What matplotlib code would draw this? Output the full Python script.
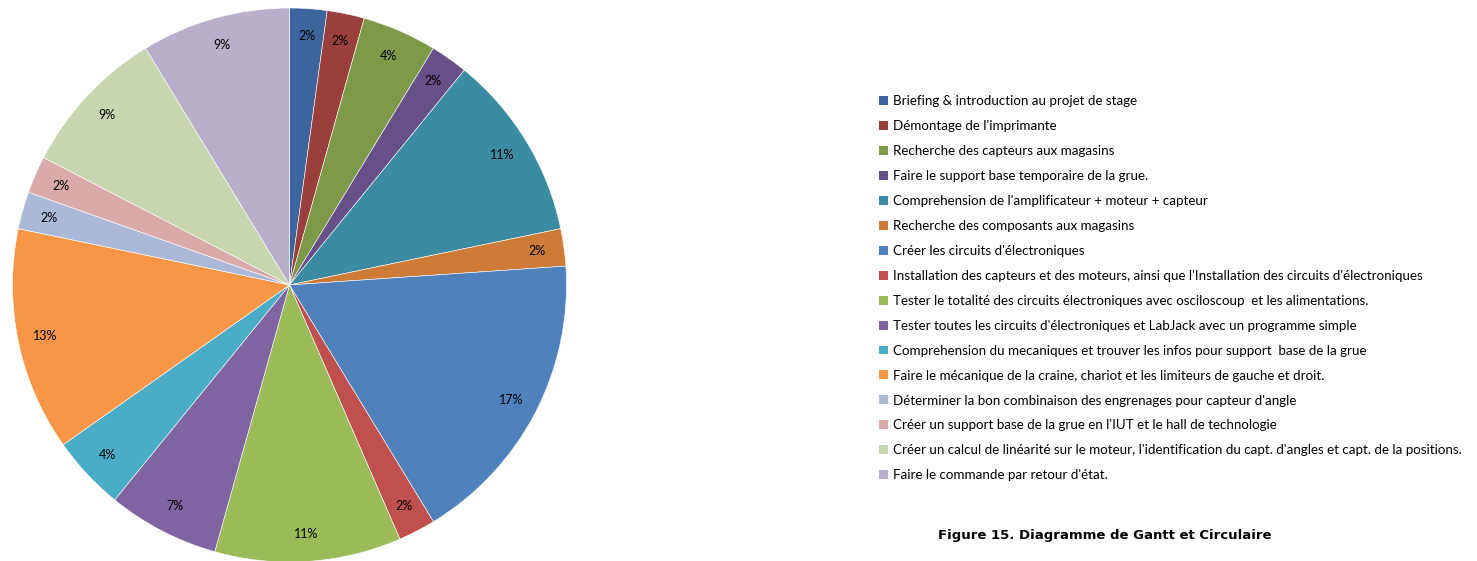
import matplotlib.pyplot as plt
from matplotlib.patches import Patch

plt.rcParams['font.family'] = ['Lato', 'DejaVu Sans']

taches = [
    "Briefing & introduction au projet de stage",
    "Démontage de l'imprimante",
    "Recherche des capteurs aux magasins",
    "Faire le support base temporaire de la grue.",
    "Comprehension de l'amplificateur + moteur + capteur",
    "Recherche des composants aux magasins",
    "Créer les circuits d'électroniques",
    "Installation des capteurs et des moteurs, ainsi que l'Installation des circuits d'électroniques",
    "Tester le totalité des circuits électroniques avec osciloscoup  et les alimentations.",
    "Tester toutes les circuits d'électroniques et LabJack avec un programme simple",
    "Comprehension du mecaniques et trouver les infos pour support  base de la grue",
    "Faire le mécanique de la craine, chariot et les limiteurs de gauche et droit.",
    "Déterminer la bon combinaison des engrenages pour capteur d'angle",
    "Créer un support base de la grue en l'IUT et le hall de technologie",
    "Créer un calcul de linéarité sur le moteur, l'identification du capt. d'angles et capt. de la positions.",
    "Faire le commande par retour d'état.",
]
jours = [1, 1, 2, 1, 5, 1, 8, 1, 5, 3, 2, 6, 1, 1, 4, 4]

couleurs = ['#3C659E', '#9B3F3D', '#7E9A48', '#674F87', '#3B8CA3', '#CF7B38',
            '#4F81BD', '#C0504D', '#9BBB59', '#8064A2', '#4BACC6', '#F79646',
            '#AAB9D7', '#D9AAA9', '#C7D6AF', '#BAAFCB']

fig = plt.figure(figsize=(14.77, 5.61), dpi=100)
ax = fig.add_axes([12.5 / 1477, -1 / 561, 554 / 1477, 554 / 561])
wedges, _, autotexts = ax.pie(jours, colors=couleurs, startangle=90, counterclock=False,
                              autopct='%1.0f%%', pctdistance=0.9,
                              wedgeprops=dict(edgecolor='white', linewidth=0.4),
                              textprops=dict(fontsize=9, color='black'))
ax.set_xlim(-1, 1)
ax.set_ylim(-1, 1)
ax.set_aspect('equal')

handles = [Patch(facecolor=c, edgecolor='none') for c in couleurs]
fig.legend(handles, taches, loc='upper left', bbox_to_anchor=(874 / 1477, 1 - 90 / 561),
           frameon=False, fontsize=9.6, handlelength=0.65, handleheight=0.65,
           handletextpad=0.35, labelspacing=0.97, borderaxespad=0)

fig.text(1105 / 1477, 1 - 536 / 561, "Figure 15. Diagramme de Gantt et Circulaire",
         family='DejaVu Sans', fontweight='bold', fontsize=9.5, ha='center', va='center')

fig.savefig('out.png', dpi=100)
